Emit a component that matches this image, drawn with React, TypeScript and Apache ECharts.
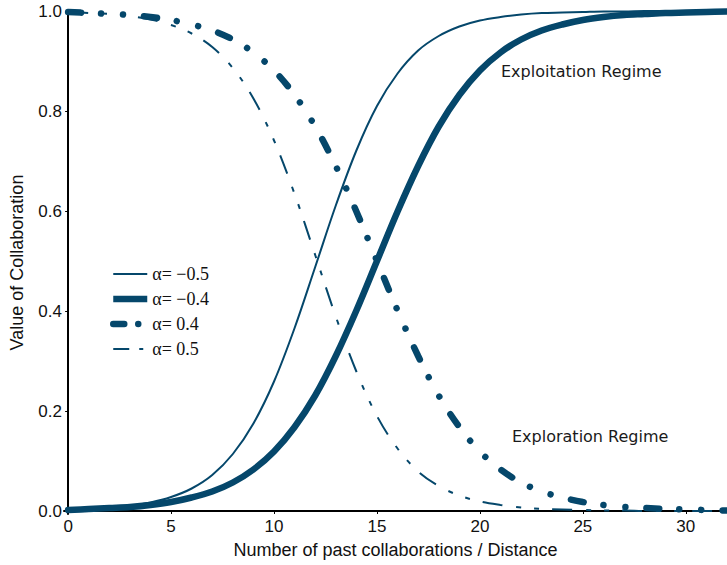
import React, { useEffect, useRef } from "react";
import * as echarts from "echarts";

const xValues = [0,1,2,3,4,5,6,7,8,9,10,11,12,13,14,15,16,17,18,19,20,21,22,23,24,25,26,27,28,29,30,31,32];

const alphaNeg05 = [0.002,0.004,0.006,0.010,0.017,0.028,0.045,0.072,0.114,0.175,0.259,0.366,0.488,0.611,0.721,0.810,0.875,0.921,0.950,0.969,0.981,0.988,0.993,0.996,0.997,0.998,0.999,0.999,1.0,1.0,1.0,1.0,1.0];
const alphaNeg04 = [0.002,0.004,0.006,0.008,0.012,0.018,0.027,0.039,0.057,0.083,0.119,0.168,0.231,0.310,0.401,0.500,0.599,0.690,0.769,0.832,0.881,0.917,0.943,0.961,0.973,0.982,0.988,0.992,0.994,0.996,0.997,0.998,0.999];
const alphaPos04 = [0.998,0.996,0.994,0.992,0.988,0.982,0.973,0.961,0.943,0.917,0.881,0.832,0.769,0.690,0.599,0.500,0.401,0.310,0.231,0.168,0.119,0.083,0.057,0.039,0.027,0.018,0.012,0.008,0.006,0.004,0.003,0.002,0.001];
const alphaPos05 = [0.998,0.996,0.994,0.990,0.983,0.972,0.955,0.928,0.886,0.825,0.741,0.634,0.512,0.389,0.279,0.190,0.125,0.079,0.050,0.031,0.019,0.012,0.007,0.004,0.003,0.002,0.001,0.001,0,0,0,0,0];

const seriesNames = ["α= −0.5", "α= −0.4", "α= 0.4", "α= 0.5"];
const xTicks = [0, 5, 10, 15, 20, 25, 30];
const yTicks = [0, 0.2, 0.4, 0.6, 0.8, 1.0];
const annotations = ["Exploitation Regime", "Exploration Regime"];

const COLOR = "#05476b";

const pairs = (ys: number[]) => xValues.map((x, i) => [x, ys[i]]);

export default function App() {
  const ref = useRef<HTMLDivElement>(null);
  useEffect(() => {
    if (!ref.current) return;
    const chart = echarts.init(ref.current, undefined, { renderer: "svg" });
    const axisFont = { fontFamily: "Liberation Sans, Arial, sans-serif", color: "#111" };
    const base = {
      type: "line",
      smooth: 0.35,
      showSymbol: false,
      symbol: "none",
      itemStyle: { color: COLOR },
    };
    const styles = [
      { color: COLOR, width: 2, type: "solid", cap: "butt" },
      { color: COLOR, width: 6.5, type: "solid", cap: "round" },
      { color: COLOR, width: 6.5, type: [13, 20, 0.01, 22, 0.01, 21], cap: "round" },
      { color: COLOR, width: 2, type: [20, 14, 5, 13, 5, 13], cap: "butt" },
    ];
    const legendStyles = [
      { color: COLOR, width: 2, type: "solid", cap: "butt" },
      { color: COLOR, width: 6.5, type: "solid", cap: "butt" },
      { color: COLOR, width: 6.5, type: [11, 14, 0.01, 40], cap: "round" },
      { color: COLOR, width: 2, type: [16, 10, 4, 40], cap: "butt" },
    ];
    const data = [alphaNeg05, alphaNeg04, alphaPos04, alphaPos05];
    chart.setOption({
      animation: false,
      backgroundColor: "#fff",
      grid: { left: 64, right: 0, top: 11, bottom: 51, containLabel: false },
      xAxis: {
        type: "value",
        min: -0.2,
        max: 32,
        name: "Number of past collaborations / Distance",
        nameLocation: "middle",
        nameGap: 27,
        nameTextStyle: { ...axisFont, fontSize: 18 },
        axisLine: { show: true, lineStyle: { color: "#000", width: 2 } },
        axisTick: { show: true, length: 3, customValues: xTicks, lineStyle: { color: "#000", width: 1 } },
        axisLabel: { customValues: xTicks, ...axisFont, fontSize: 17, margin: 4 },
        splitLine: { show: false },
      },
      yAxis: {
        type: "value",
        min: -0.006,
        max: 1,
        name: "Value of Collaboration",
        nameLocation: "middle",
        nameGap: 38,
        nameTextStyle: { ...axisFont, fontSize: 18 },
        axisLine: { show: true, lineStyle: { color: "#000", width: 2 } },
        axisTick: { show: true, length: 3, customValues: yTicks, lineStyle: { color: "#000", width: 1 } },
        axisLabel: { customValues: yTicks, ...axisFont, fontSize: 17, margin: 2, formatter: (v: number) => v.toFixed(1) },
        splitLine: { show: false },
      },
      legend: {
        orient: "vertical",
        left: 105,
        top: 260,
        itemWidth: 34,
        itemHeight: 14,
        itemGap: 7,
        data: seriesNames.map((n, i) => ({ name: n, lineStyle: legendStyles[i] })),
        itemStyle: { opacity: 0 },
        textStyle: { fontFamily: "Liberation Serif, Times New Roman, serif", fontSize: 18, color: "#111", lineHeight: 18 },
      },
      series: seriesNames.map((n, i) => ({
        ...base,
        name: n,
        data: pairs(data[i]),
        lineStyle: styles[i],
      })),
      graphic: [
        {
          type: "text",
          left: 501,
          top: 63,
          style: { text: annotations[0], fontFamily: "DejaVu Sans, Verdana, sans-serif", fontSize: 16, fill: "#1a1a1a" },
        },
        {
          type: "text",
          left: 512,
          top: 428,
          style: { text: annotations[1], fontFamily: "DejaVu Sans, Verdana, sans-serif", fontSize: 16, fill: "#1a1a1a" },
        },
      ],
    });
    return () => chart.dispose();
  }, []);
  return <div ref={ref} style={{ width: 727, height: 565, position: "absolute", left: 0, top: 0 }} />;
}
